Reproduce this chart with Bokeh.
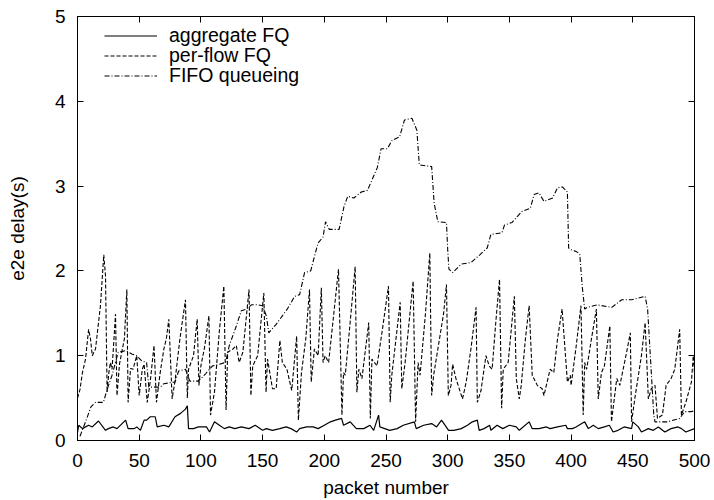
from bokeh.plotting import figure
from bokeh.models import LinearAxis, FixedTicker, Legend, LegendItem, Range1d
from bokeh.embed import file_html
from bokeh.resources import INLINE

# ---------------- data ----------------
x_ticks = [0, 50, 100, 150, 200, 250, 300, 350, 400, 450, 500]
y_ticks = [0, 1, 2, 3, 4, 5]

aggregate_fq_x = [0, 1, 4, 9, 12, 17, 22.7, 25, 29, 32, 39, 41, 46, 48, 51, 54, 56, 59, 63, 64.6,
                  70, 74, 79, 83.5, 87.5, 89, 90, 94, 98, 104.5, 107, 111, 115, 119, 123, 127.5,
                  132.7, 139, 144, 150, 153, 158, 164, 169, 173, 177.6, 180, 185.7, 191, 195, 200,
                  205, 209, 214, 215.6, 221, 226, 232, 237, 240, 244, 245, 253, 259, 264, 273,
                  274.5, 280.5, 287, 291, 295, 300.7, 305, 311, 316, 320, 324, 325.5, 329.5, 334,
                  335, 340, 344.6, 350, 355.6, 358, 366, 368.5, 374, 380, 383, 389, 395.7, 397,
                  401, 404, 411, 414, 418, 422, 427, 431, 434, 438, 443, 449, 450, 454.5, 457,
                  462.6, 466.6, 470.7, 476, 481, 486.7, 489.4, 493, 500]
aggregate_fq_y = [0.10, 0.18, 0.14, 0.18, 0.16, 0.23, 0.12, 0.14, 0.16, 0.14, 0.24, 0.14, 0.14, 0.16,
                  0.12, 0.24, 0.24, 0.28, 0.28, 0.16, 0.18, 0.16, 0.28, 0.32, 0.37, 0.41, 0.14, 0.14,
                  0.16, 0.16, 0.10, 0.22, 0.18, 0.14, 0.16, 0.14, 0.16, 0.14, 0.18, 0.12, 0.14, 0.12,
                  0.14, 0.16, 0.14, 0.10, 0.14, 0.16, 0.16, 0.14, 0.18, 0.22, 0.24, 0.26, 0.18, 0.22,
                  0.14, 0.14, 0.18, 0.12, 0.30, 0.16, 0.12, 0.14, 0.18, 0.22, 0.14, 0.18, 0.20, 0.16,
                  0.24, 0.12, 0.12, 0.14, 0.18, 0.22, 0.24, 0.12, 0.14, 0.18, 0.12, 0.18, 0.14, 0.18,
                  0.16, 0.12, 0.22, 0.14, 0.14, 0.16, 0.14, 0.16, 0.18, 0.14, 0.14, 0.16, 0.22, 0.14,
                  0.18, 0.14, 0.16, 0.18, 0.10, 0.12, 0.16, 0.14, 0.22, 0.16, 0.10, 0.14, 0.12, 0.16,
                  0.10, 0.14, 0.16, 0.14, 0.10, 0.14]

per_flow_fq_x = [0, 2, 4, 6.5, 9, 10.5, 12, 14.6, 18.6, 21.3, 22.7, 24, 25.4, 26.7, 28, 30.8, 32, 34,
                 36, 38, 40, 41, 43, 45, 48, 50, 52.5, 54, 56.5, 59, 62, 64, 67, 70, 72, 74, 76.7,
                 79, 83, 87.5, 89, 90, 94, 97, 98.4, 100, 103, 106.5, 107.8, 111, 115, 118.6, 120.4,
                 121.7, 126, 128.7, 131, 134, 139, 140.5, 142, 146, 151, 152.8, 154, 158, 161, 164,
                 166, 169.7, 173.6, 177.6, 179, 181.5, 185, 188, 189.4, 192, 195, 197.6, 199, 200.7,
                 203.5, 207, 211.5, 214.3, 215.6, 217, 221, 225, 226.4, 228, 230.5, 236, 237.3,
                 238.6, 242.7, 247, 252, 253.4, 254.7, 261.5, 262.8, 265.5, 272, 274, 276, 277.6,
                 282, 285.5, 287, 288.6, 296.7, 299, 300.5, 302.7, 304, 306.7, 312, 315, 319, 323,
                 324, 327, 331, 333.6, 336, 339, 342, 343.7, 345, 349, 354, 355.6, 358, 359.6, 363,
                 366, 368.5, 372.6, 376.6, 378, 383, 386, 389, 392.7, 397, 399.4, 400, 404, 408,
                 409.8, 411, 412.6, 416.5, 420.5, 422, 424.6, 427, 431.4, 432.7, 437, 439.5, 445,
                 448, 449, 452, 457, 460, 462.6, 465, 468, 470, 474, 477, 481, 484, 488, 489.4, 493,
                 497.5, 499, 500]
per_flow_fq_y = [0.50, 0.60, 0.80, 0.96, 1.31, 1.20, 1.00, 1.08, 1.59, 2.19, 1.94, 0.57, 0.80, 0.92,
                 0.84, 1.49, 0.53, 0.90, 1.05, 1.20, 1.78, 0.45, 0.85, 0.84, 1.00, 0.53, 0.84, 0.90,
                 0.45, 0.70, 1.12, 0.45, 0.80, 1.08, 1.20, 1.43, 0.49, 0.70, 1.20, 1.66, 0.50, 0.84,
                 1.00, 1.43, 0.65, 0.88, 1.10, 1.47, 0.30, 0.57, 1.30, 1.82, 0.36, 1.04, 1.08, 1.12,
                 0.92, 1.04, 1.78, 0.53, 0.88, 1.00, 1.74, 0.57, 0.96, 0.61, 0.61, 1.18, 0.92, 0.84,
                 0.59, 1.23, 0.24, 0.80, 1.20, 1.78, 0.69, 1.08, 1.00, 1.80, 0.92, 1.00, 0.92, 1.40,
                 2.02, 0.30, 0.80, 0.77, 1.40, 2.05, 0.57, 0.84, 0.73, 1.39, 0.26, 0.96, 0.88, 1.30,
                 1.82, 0.45, 0.77, 1.63, 0.61, 0.92, 1.88, 0.22, 0.92, 0.77, 1.50, 2.21, 0.53, 0.77,
                 1.50, 1.84, 0.53, 0.65, 0.90, 0.73, 0.49, 0.69, 1.10, 1.57, 0.45, 0.59, 1.00, 0.88,
                 0.84, 1.40, 1.90, 0.38, 0.84, 0.92, 1.70, 0.73, 0.49, 0.65, 1.20, 1.59, 0.77, 0.65,
                 0.61, 0.53, 0.84, 0.80, 1.20, 1.55, 0.69, 0.77, 0.65, 1.10, 1.59, 0.30, 0.92, 0.84,
                 1.20, 1.55, 0.49, 0.80, 0.88, 1.35, 0.22, 0.73, 0.65, 1.04, 1.27, 0.22, 0.53, 1.00,
                 1.39, 0.49, 0.61, 0.65, 0.26, 0.30, 0.65, 0.73, 0.84, 1.31, 0.30, 0.45, 0.69, 1.00,
                 0.80]

fifo_x = [2, 6.5, 11, 14.6, 21, 24, 28, 33, 39, 44, 48, 52, 56, 57.8, 67, 70, 79, 82, 87.5, 91, 98,
          104, 109.5, 115, 120, 123, 128.7, 132.7, 137, 141, 146, 150, 153, 155, 161, 166, 170,
          176, 180, 184, 189, 192, 195, 199, 201, 204, 212, 216, 219, 224, 230, 235, 243, 246,
          251, 255, 261, 265, 271, 275, 277, 287, 289, 292, 299, 300, 301, 304, 311, 319, 326,
          332, 335, 344, 346, 352, 360, 367, 370, 374, 378, 385, 389, 393, 397, 398, 400, 404,
          407, 409, 411, 413, 421, 433, 441, 449, 460, 462, 467, 468, 478, 488, 492, 497, 500]
fifo_y = [0.05, 0.22, 0.40, 0.45, 0.45, 0.60, 0.77, 1.04, 1.06, 1.02, 1.00, 0.94, 0.92, 0.63, 0.63,
          0.67, 0.69, 0.82, 0.84, 0.70, 0.70, 0.79, 0.88, 0.90, 0.92, 1.12, 1.35, 1.53, 1.55, 1.60,
          1.60, 1.59, 1.47, 1.27, 1.37, 1.47, 1.55, 1.70, 1.72, 1.98, 2.00, 2.17, 2.33, 2.40, 2.58,
          2.49, 2.49, 2.76, 2.88, 2.86, 2.93, 2.95, 3.22, 3.44, 3.44, 3.54, 3.58, 3.78, 3.80, 3.66,
          3.25, 3.23, 2.80, 2.58, 2.57, 2.25, 2.02, 1.98, 2.08, 2.10, 2.19, 2.27, 2.43, 2.45, 2.54,
          2.57, 2.70, 2.74, 2.90, 2.92, 2.82, 2.86, 2.98, 2.99, 2.93, 2.27, 2.25, 2.23, 2.20, 1.82,
          1.55, 1.57, 1.60, 1.57, 1.66, 1.66, 1.70, 1.55, 0.30, 0.22, 0.22, 0.26, 0.34, 0.34, 0.35]

series_labels = ["aggregate FQ", "per-flow FQ", "FIFO queueing"]

# ---------------- figure ----------------
FONT = "Liberation Sans"

p = figure(width=714, height=500, output_backend="svg", toolbar_location=None,
           x_range=Range1d(0, 500), y_range=Range1d(0, 5),
           min_border_left=77, min_border_right=20, min_border_top=16, min_border_bottom=58)
p.background_fill_color = "white"
p.border_fill_color = "white"
p.outline_line_color = "black"
p.outline_line_width = 1
p.xgrid.visible = False
p.ygrid.visible = False

r_agg = p.line(aggregate_fq_x, aggregate_fq_y, line_color="black", line_width=1.2)
r_pf = p.line(per_flow_fq_x, per_flow_fq_y, line_color="black", line_width=1.1, line_dash="4 2")
r_fifo = p.line(fifo_x, fifo_y, line_color="black", line_width=1.1, line_dash="5 2 1 2")


def style_axis(ax, ticks, labels=True):
    ax.ticker = FixedTicker(ticks=ticks)
    ax.major_tick_in = 6
    ax.major_tick_out = 0
    ax.minor_tick_in = 0
    ax.minor_tick_out = 0
    ax.axis_line_color = "black"
    ax.major_tick_line_color = "black"
    if labels:
        ax.major_label_text_font = FONT
        ax.major_label_text_font_size = "19px"
        ax.major_label_text_color = "black"
        ax.axis_label_text_font = FONT
        ax.axis_label_text_font_size = "19px"
        ax.axis_label_text_font_style = "normal"
        ax.axis_label_text_color = "black"
    else:
        # mirror axis: ticks only, labels not painted
        ax.major_label_text_color = None
        ax.major_label_text_font_size = "1px"
        ax.major_label_standoff = 0


style_axis(p.xaxis[0], x_ticks)
p.xaxis[0].axis_label = "packet number"
p.xaxis[0].major_label_standoff = 13
p.xaxis[0].axis_label_standoff = 7

style_axis(p.yaxis[0], y_ticks)
p.yaxis[0].axis_label = "e2e delay(s)"
p.yaxis[0].major_label_standoff = 12
p.yaxis[0].axis_label_standoff = 24

top_axis = LinearAxis()
style_axis(top_axis, x_ticks, labels=False)
p.add_layout(top_axis, "above")
right_axis = LinearAxis()
style_axis(right_axis, y_ticks, labels=False)
p.add_layout(right_axis, "right")

# one single-row legend per series, so the row pitch matches the reference
legend_rows = [(series_labels[0], r_agg, 393),
               (series_labels[1], r_pf, 373),
               (series_labels[2], r_fifo, 353)]
for label, renderer, ypos in legend_rows:
    lg = Legend(items=[LegendItem(label=label, renderers=[renderer])], location=(27, ypos))
    lg.glyph_width = 53
    lg.glyph_height = 19
    lg.label_height = 19
    lg.label_standoff = 12
    lg.spacing = 0
    lg.padding = 0
    lg.margin = 0
    lg.border_line_color = None
    lg.background_fill_alpha = 0
    lg.label_text_font = FONT
    lg.label_text_font_size = "19.5px"
    lg.label_text_color = "black"
    p.add_layout(lg)

open("out.html", "w").write(file_html(p, INLINE))
